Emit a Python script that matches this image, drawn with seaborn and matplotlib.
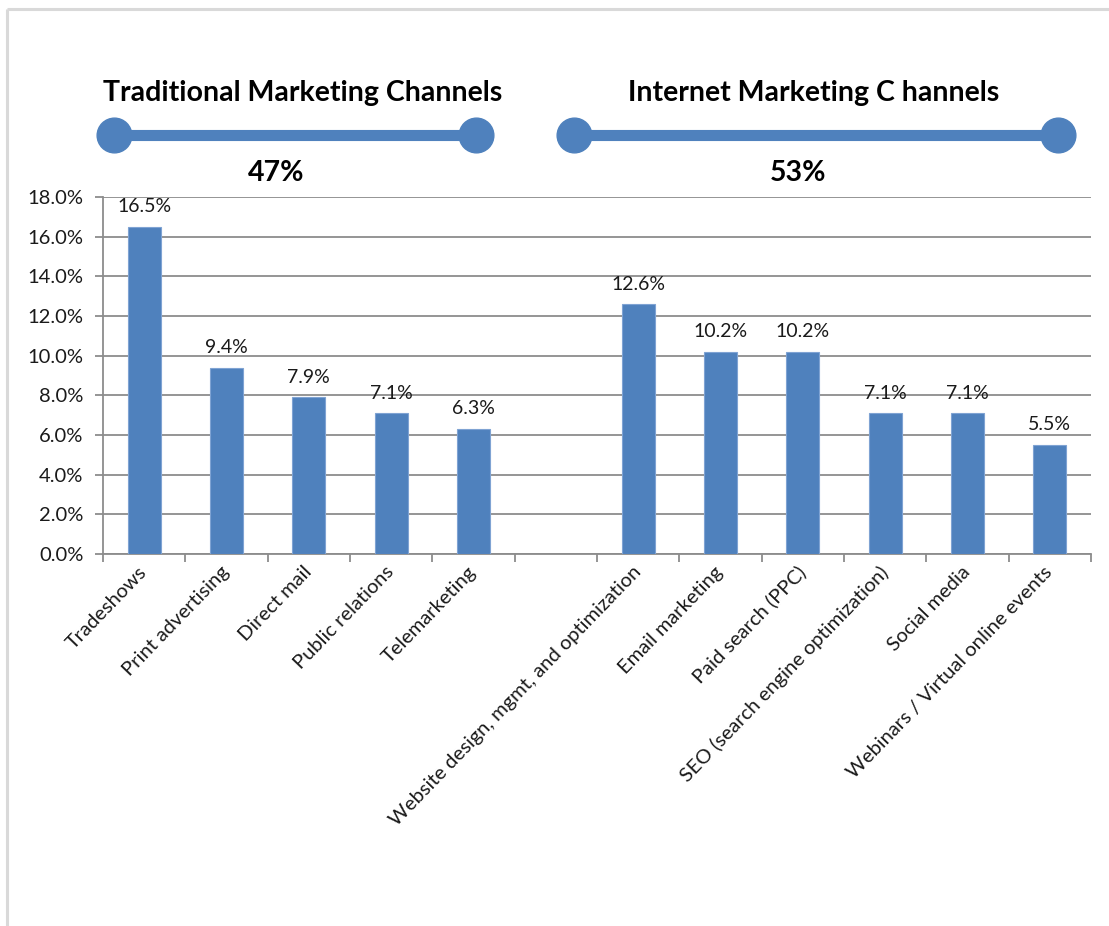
import matplotlib
matplotlib.use("Agg")
import matplotlib.pyplot as plt
from matplotlib.ticker import FixedLocator, FuncFormatter
import seaborn as sns
import pandas as pd

# Channel shares of marketing spend (percent)
traditional_channels = ["Tradeshows", "Print advertising", "Direct mail",
                        "Public relations", "Telemarketing"]
traditional_share = [16.5, 9.4, 7.9, 7.1, 6.3]

internet_channels = ["Website design, mgmt, and optimization", "Email marketing",
                     "Paid search (PPC)", "SEO (search engine optimization)",
                     "Social media", "Webinars / Virtual online events"]
internet_share = [12.6, 10.2, 10.2, 7.1, 7.1, 5.5]

group_titles = ["Traditional Marketing Channels", "Internet Marketing C hannels"]
group_totals = ["47%", "53%"]

y_ticks = [0, 2, 4, 6, 8, 10, 12, 14, 16, 18]

BLUE = "#4F81BD"
GRID = "#8C8C8C"
TEXT = "#1a1a1a"

sns.set_theme(style="white")
plt.rcParams["font.family"] = ["Lato", "DejaVu Sans"]

df = pd.DataFrame({
    "channel": traditional_channels + internet_channels,
    "share": traditional_share + internet_share,
})
gap = " "
order = traditional_channels + [gap] + internet_channels

W, H = 1109, 926
fig = plt.figure(figsize=(W / 100, H / 100), dpi=100)
fig.patch.set_facecolor("white")

ax = fig.add_axes([103 / W, 1 - 554 / H, (1091 - 103) / W, 357 / H])
sns.barplot(data=df, x="channel", y="share", order=order, color=BLUE,
            width=0.4, saturation=1, edgecolor="#7fa3d3", linewidth=0.8,
            ax=ax, zorder=3)

ax.set_xlim(-0.5, len(order) - 0.5)
ax.set_ylim(0, 18)
ax.yaxis.set_major_locator(FixedLocator(y_ticks))
ax.yaxis.set_major_formatter(FuncFormatter(lambda v, p: f"{v:.1f}%"))
ax.yaxis.grid(True, color=GRID, linewidth=1.3, zorder=0)
ax.xaxis.grid(False)
ax.set_xlabel("")
ax.set_ylabel("")

for side in ("top", "right"):
    ax.spines[side].set_visible(False)
for side in ("left", "bottom"):
    ax.spines[side].set_color(GRID)
    ax.spines[side].set_linewidth(1.3)

ax.tick_params(axis="y", left=True, length=6, width=1.3, color=GRID,
               labelsize=14.5, labelcolor=TEXT, pad=8)
ax.set_xticks(range(len(order)))
ax.set_xticklabels(order)
ax.tick_params(axis="x", which="major", length=0, labelsize=14.5,
               labelcolor=TEXT, pad=11)
ax.set_xticks([i - 0.5 for i in range(len(order) + 1)], minor=True)
ax.tick_params(axis="x", which="minor", bottom=True, length=6, width=1.3,
               color=GRID)
for lab in ax.get_xticklabels():
    lab.set_rotation(46)
    lab.set_ha("right")
    lab.set_va("center")
    lab.set_rotation_mode("anchor")

# value labels above each bar
for container in ax.containers:
    for bar in container:
        h = bar.get_height()
        if h != h:
            continue
        ax.annotate(f"{h:.1f}%", (bar.get_x() + bar.get_width() / 2, h),
                    xytext=(0, 10.5), textcoords="offset points",
                    ha="center", va="baseline", fontsize=14, color=TEXT)

# overlay in pixel coordinates for the group headers and page frame
ov = fig.add_axes([0, 0, 1, 1], facecolor="none")
ov.set_xlim(0, W)
ov.set_ylim(H, 0)
ov.axis("off")

ov.plot([7, 7], [9, H], color="#d9d9d9", lw=2.2, solid_capstyle="butt")
ov.plot([7, W], [9, 9], color="#d9d9d9", lw=2.2, solid_capstyle="butt")

headers = [
    (group_titles[0], group_totals[0], 303, 276, 114, 476),
    (group_titles[1], group_totals[1], 814, 798, 574, 1058),
]
for title, total, tx, px, x0, x1 in headers:
    ov.text(tx, 93, title, ha="center", va="center", fontsize=20.5,
            fontweight="bold", color="black")
    ov.plot([x0, x1], [135, 135], color=BLUE, lw=8, solid_capstyle="butt")
    ov.plot([x0, x1], [135, 135], linestyle="none", marker="o",
            markersize=25, color=BLUE)
    ov.text(px, 173, total, ha="center", va="center", fontsize=20.5,
            fontweight="bold", color="black")

fig.savefig("out.png", dpi=100, facecolor="white")
